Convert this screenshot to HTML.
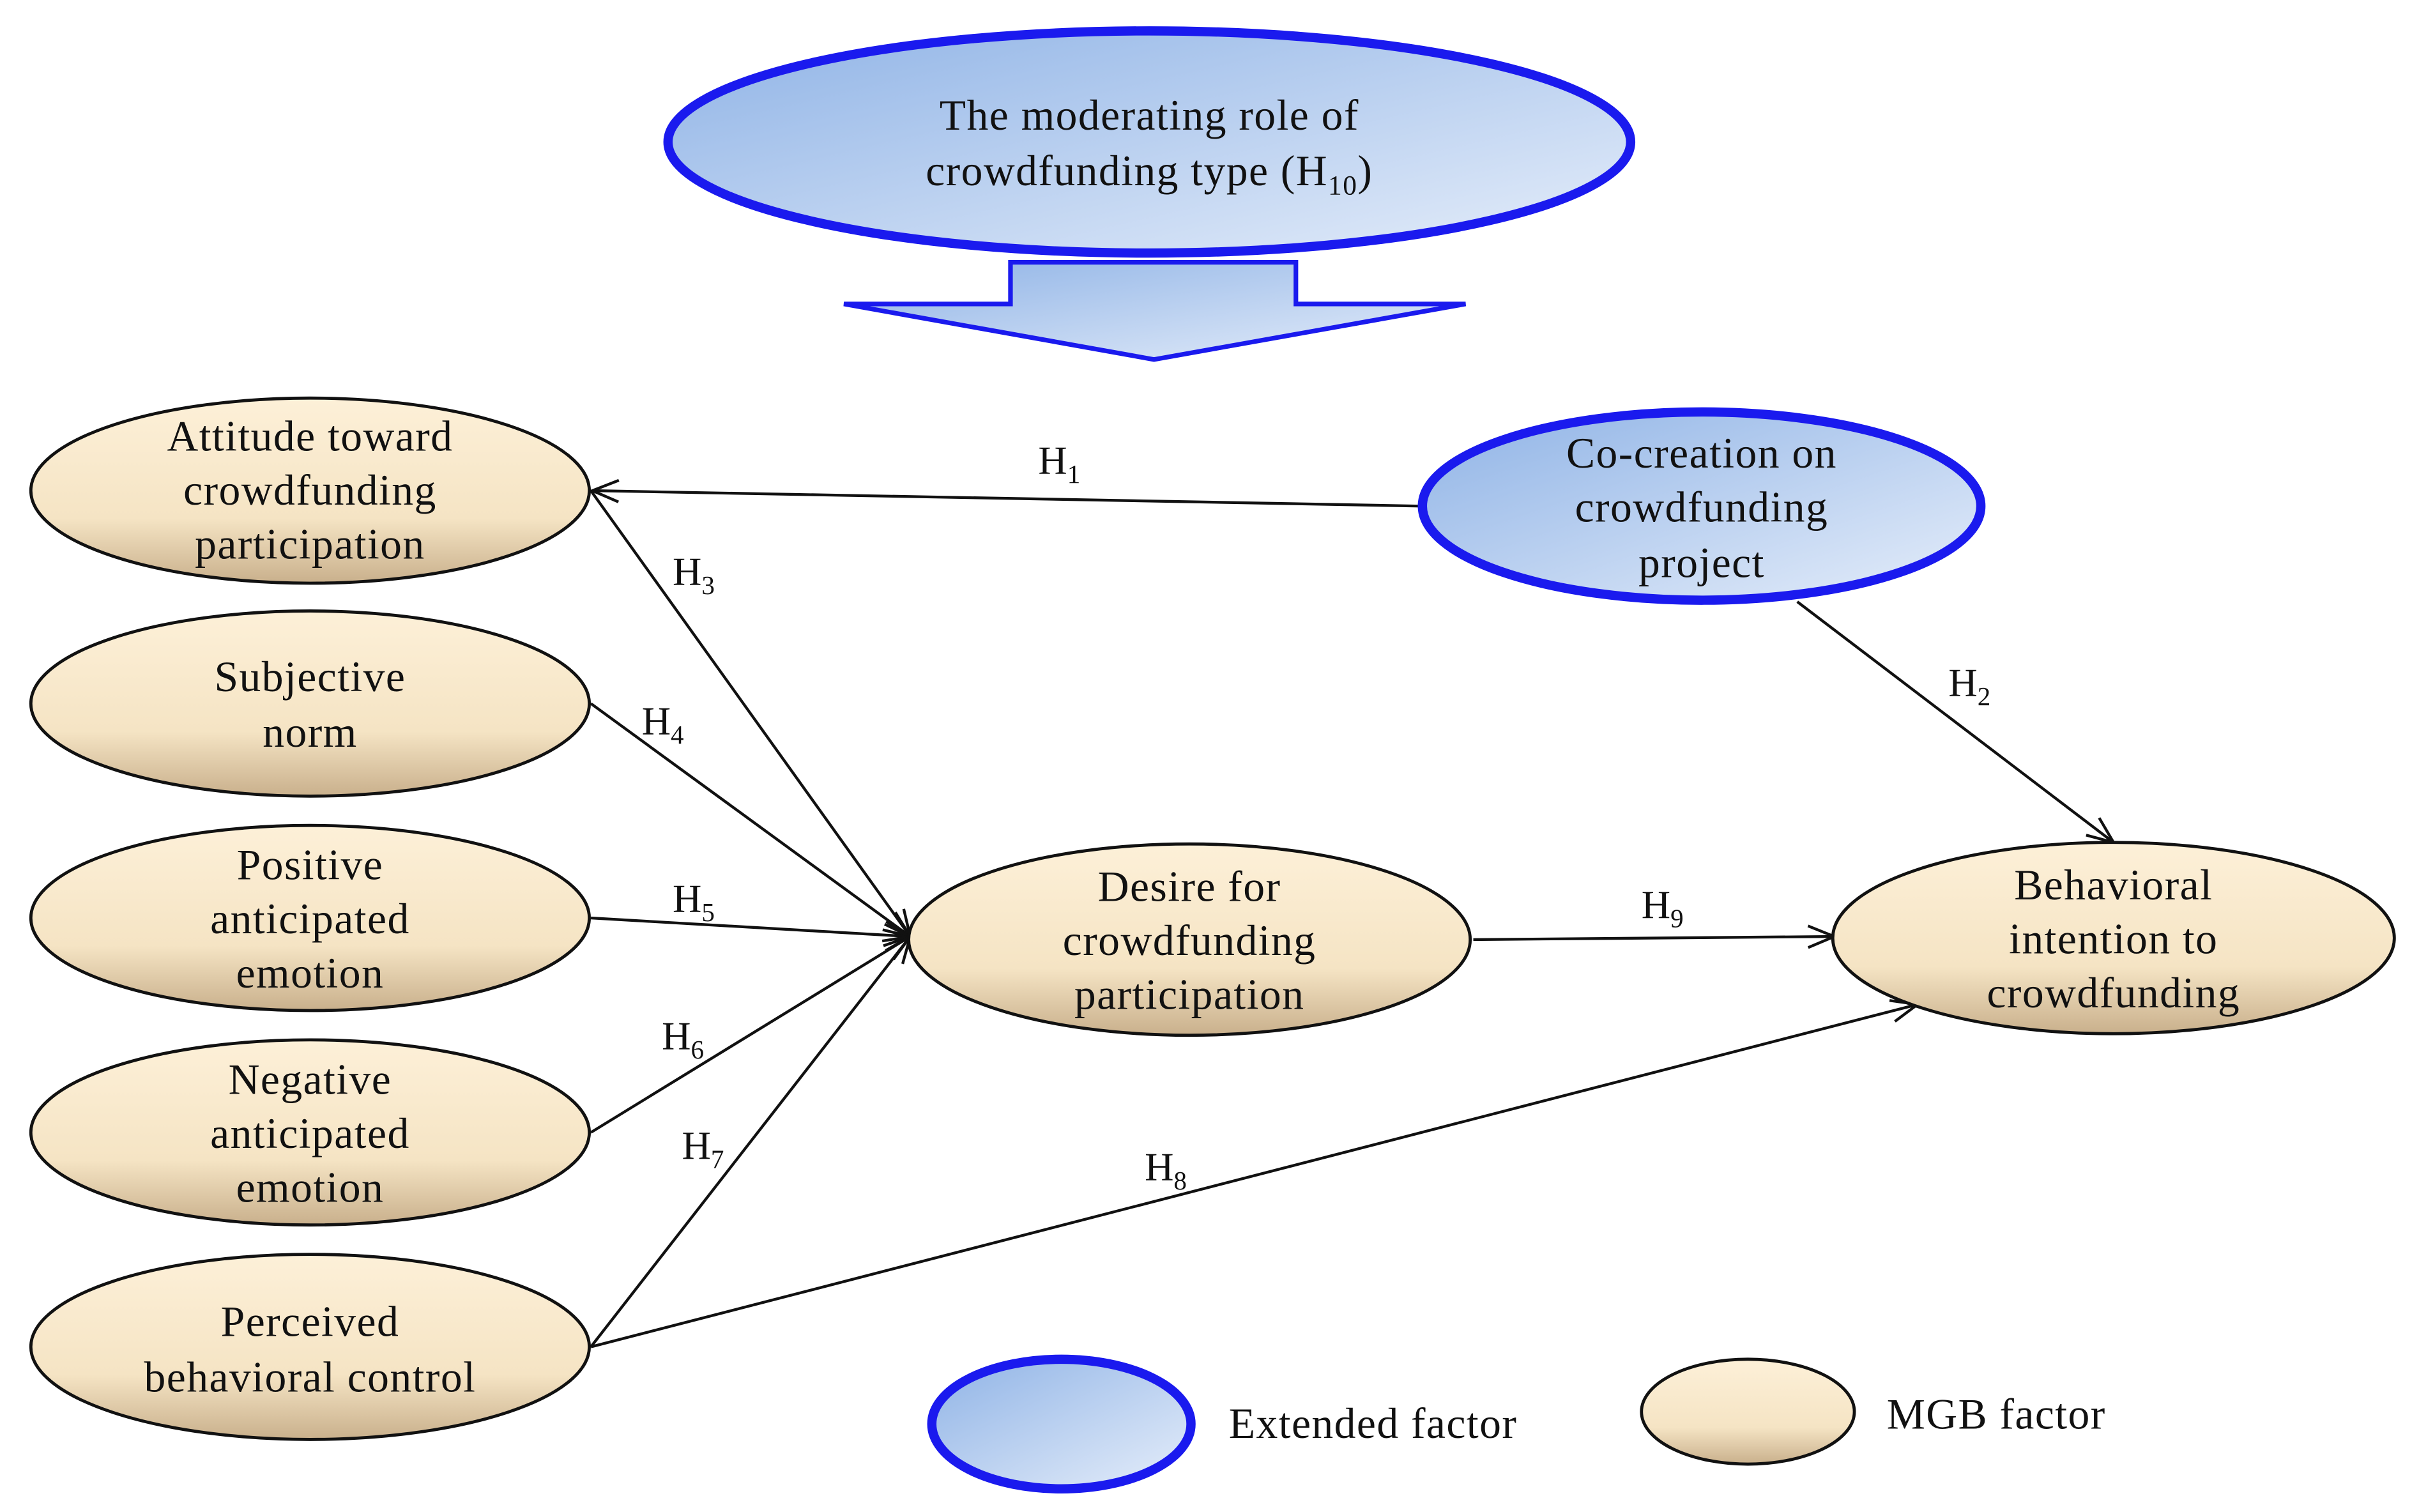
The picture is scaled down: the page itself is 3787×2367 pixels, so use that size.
<!DOCTYPE html>
<html><head><meta charset="utf-8"><style>
html,body{margin:0;padding:0;background:#fff}
svg{display:block}
text{font-family:"Liberation Serif",serif;font-size:28px;letter-spacing:0.6px;fill:#111;text-anchor:middle}
.lab{font-size:26px;text-anchor:start;letter-spacing:0}
</style></head><body>
<svg width="3787" height="2367" viewBox="0 0 1568 980" xmlns="http://www.w3.org/2000/svg">
<defs>
<linearGradient id="bl" x1="0" y1="0" x2="1" y2="1">
<stop offset="0" stop-color="#8fb3e6"/><stop offset="1" stop-color="#e6eefa"/></linearGradient>
<linearGradient id="bg" x1="0" y1="0" x2="0" y2="1">
<stop offset="0" stop-color="#fdf0d8"/><stop offset="0.65" stop-color="#f5e4c4"/><stop offset="1" stop-color="#c9b08c"/></linearGradient>
<marker id="ar" viewBox="0 0 20 20" refX="19" refY="10" markerWidth="20" markerHeight="20" markerUnits="userSpaceOnUse" orient="auto">
<path d="M2,3 L19,10 L2,17" fill="none" stroke="#111" stroke-width="1.8"/></marker>
</defs>
<ellipse cx="745" cy="92" rx="312" ry="72" fill="url(#bl)" stroke="#1a1aee" stroke-width="6"/>
<text x="745" y="84">The moderating role of</text>
<text x="745" y="120">crowdfunding type (H<tspan font-size="18" dy="6">10</tspan><tspan dy="-6">)</tspan></text>
<path d="M655,170 L840,170 L840,197 L950,197 L748,233 L547,197 L655,197 Z" fill="url(#bl)" stroke="#1a1aee" stroke-width="3"/>

<g stroke="#111" stroke-width="1.8" fill="none">
<line x1="920" y1="328" x2="384" y2="318" marker-end="url(#ar)"/>
<line x1="383" y1="318" x2="590" y2="607" marker-end="url(#ar)"/>
<line x1="383" y1="456" x2="590" y2="607" marker-end="url(#ar)"/>
<line x1="383" y1="595" x2="590" y2="607" marker-end="url(#ar)"/>
<line x1="383" y1="734" x2="590" y2="607" marker-end="url(#ar)"/>
<line x1="383" y1="873" x2="590" y2="607" marker-end="url(#ar)"/>
<line x1="955" y1="609" x2="1189" y2="607" marker-end="url(#ar)"/>
<line x1="1165" y1="390" x2="1370" y2="546" marker-end="url(#ar)"/>
<line x1="383" y1="873" x2="1243" y2="651" marker-end="url(#ar)"/>
</g>

<g fill="url(#bg)" stroke="#111" stroke-width="2">
<ellipse cx="201" cy="318" rx="181" ry="60"/>
<ellipse cx="201" cy="456" rx="181" ry="60"/>
<ellipse cx="201" cy="595" rx="181" ry="60"/>
<ellipse cx="201" cy="734" rx="181" ry="60"/>
<ellipse cx="201" cy="873" rx="181" ry="60"/>
<ellipse cx="771" cy="609" rx="182" ry="62"/>
<ellipse cx="1370" cy="608" rx="182" ry="62"/>
<ellipse cx="1133" cy="915" rx="69" ry="34"/>
</g>
<ellipse cx="1103" cy="328" rx="181" ry="61" fill="url(#bl)" stroke="#1a1aee" stroke-width="6"/>
<ellipse cx="688" cy="923" rx="84" ry="42" fill="url(#bl)" stroke="#1a1aee" stroke-width="6"/>

<text x="201" y="292">Attitude toward</text><text x="201" y="327">crowdfunding</text><text x="201" y="362">participation</text>
<text x="201" y="448">Subjective</text><text x="201" y="484">norm</text>
<text x="201" y="570">Positive</text><text x="201" y="605">anticipated</text><text x="201" y="640">emotion</text>
<text x="201" y="709">Negative</text><text x="201" y="744">anticipated</text><text x="201" y="779">emotion</text>
<text x="201" y="866">Perceived</text><text x="201" y="902">behavioral control</text>
<text x="771" y="584">Desire for</text><text x="771" y="619">crowdfunding</text><text x="771" y="654">participation</text>
<text x="1370" y="583">Behavioral</text><text x="1370" y="618">intention to</text><text x="1370" y="653">crowdfunding</text>
<text x="1103" y="303">Co-creation on</text><text x="1103" y="338">crowdfunding</text><text x="1103" y="374">project</text>
<text x="890" y="932">Extended factor</text>
<text x="1294" y="926">MGB factor</text>

<text class="lab" x="673" y="307">H<tspan font-size="17" dy="6">1</tspan></text>
<text class="lab" x="1263" y="451">H<tspan font-size="17" dy="6">2</tspan></text>
<text class="lab" x="436" y="379">H<tspan font-size="17" dy="6">3</tspan></text>
<text class="lab" x="416" y="476">H<tspan font-size="17" dy="6">4</tspan></text>
<text class="lab" x="436" y="591">H<tspan font-size="17" dy="6">5</tspan></text>
<text class="lab" x="429" y="680">H<tspan font-size="17" dy="6">6</tspan></text>
<text class="lab" x="442" y="751">H<tspan font-size="17" dy="6">7</tspan></text>
<text class="lab" x="742" y="765">H<tspan font-size="17" dy="6">8</tspan></text>
<text class="lab" x="1064" y="595">H<tspan font-size="17" dy="6">9</tspan></text>
</svg>
</body></html>
